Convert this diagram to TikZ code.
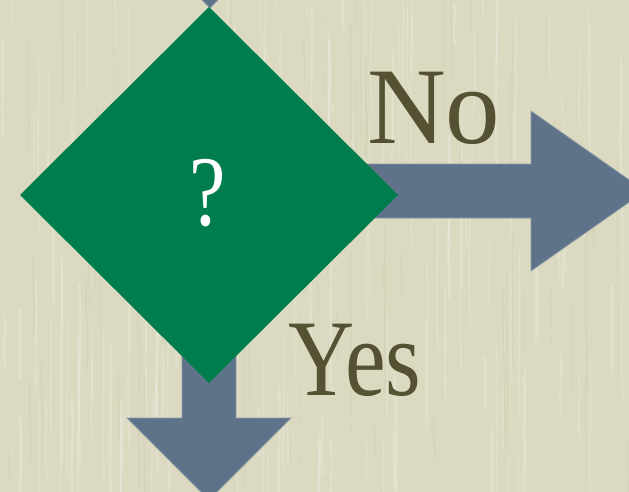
\documentclass[tikz,border=0pt]{standalone}
\usepackage{fontspec}
\setmainfont{Liberation Serif}
\usetikzlibrary{shapes.geometric}
\definecolor{bg}{HTML}{DBDAC1}
\definecolor{bgdark}{HTML}{C8C6A8}
\definecolor{slate}{HTML}{5E7389}
\definecolor{slateedge}{HTML}{8D9AA6}
\definecolor{dgreen}{HTML}{007D4C}
\definecolor{olive}{HTML}{555234}
\begin{document}
\begin{tikzpicture}[x=1pt,y=-1pt,
  blockarrow/.style={fill=slate,draw=slateedge,line width=0.8pt,line join=miter},
  wordlabel/.style={text=olive,inner sep=0pt,font=\fontsize{109}{109}\selectfont},
  decision/.style={diamond,fill=dgreen,minimum width=378pt,minimum height=376pt,inner sep=0pt,outer sep=0pt},
  qmark/.style={inner sep=0pt,text=white,font=\fontsize{100}{100}\selectfont}]
\useasboundingbox (0,0) rectangle (629,492);
\clip (0,0) rectangle (629,492);
\fill[bg] (0,0) rectangle (629,492);
% paper texture
\pgfmathsetseed{7}
\foreach \i in {1,...,170}{
  \pgfmathsetmacro\xx{rnd*629}
  \pgfmathsetmacro\yy{rnd*520-60}
  \pgfmathsetmacro\ll{40+rnd*170}
  \pgfmathsetmacro\ww{0.6+rnd*1.8}
  \draw[white,opacity=0.18,line width=\ww pt] (\xx,\yy) .. controls (\xx+2,\yy+\ll/3) and (\xx-2,\yy+2*\ll/3) .. (\xx+1,\yy+\ll);
}
\foreach \i in {1,...,90}{
  \pgfmathsetmacro\xx{rnd*629}
  \pgfmathsetmacro\yy{rnd*520-60}
  \pgfmathsetmacro\ll{30+rnd*140}
  \pgfmathsetmacro\ww{0.5+rnd*1.2}
  \draw[bgdark,opacity=0.3,line width=\ww pt] (\xx,\yy) .. controls (\xx-2,\yy+\ll/3) and (\xx+2,\yy+2*\ll/3) .. (\xx,\yy+\ll);
}
% anchor points
\coordinate (c) at (209,195);
\coordinate (noTip) at (645,191);
\coordinate (yesTip) at (209,500);
\coordinate (topTip) at (210,8);
% block arrows
\draw[blockarrow] (209,164) -- (531,164) -- (531,111) -- (noTip) -- (531,271) -- (531,218) -- (209,218) -- cycle;
\draw[blockarrow] (182,195) -- (182,418) -- (127,418) -- (yesTip) -- (291,418) -- (236,418) -- (236,195) -- cycle;
\draw[blockarrow] (183,-200) -- (183,-73) -- (129,-73) -- (topTip) -- (291,-73) -- (237,-73) -- (237,-200) -- cycle;
% decision diamond
\node[decision] (dec) at (c) {};
\node[qmark] (q) at ([shift={(-1.5,-2)}]dec.center) {\scalebox{0.82}[1]{?}};
% labels
\node[wordlabel,anchor=base west] (no) at (367,143) {No};
\node[wordlabel,anchor=base west] (yes) at (288,395) {\scalebox{0.84}[1]{Yes}};
\end{tikzpicture}
\end{document}
